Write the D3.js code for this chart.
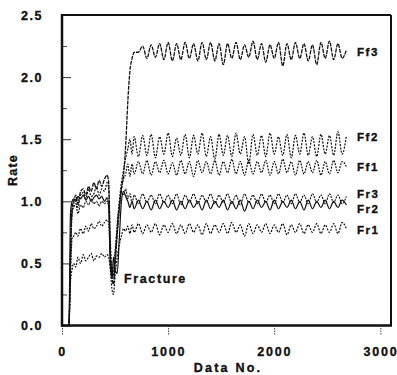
<!DOCTYPE html>
<html>
<head>
<meta charset="utf-8">
<script src="https://cdn.jsdelivr.net/npm/d3@7/dist/d3.min.js"></script>
<style>
  html, body { margin: 0; padding: 0; background: #fff; }
  svg { display: block; }
  text { font-family: Arial, "Liberation Sans", Helvetica, sans-serif; font-weight: bold; fill: #111; }
</style>
</head>
<body>
<svg id="chart" width="397" height="375"></svg>
<script>
// Sample positions (data number) shared by all six series
const dataNo = [0, 65, 80, 95, 110, 130, 150, 175, 200, 225, 250, 275, 300, 325, 350, 375, 400, 425, 440, 455,
  470, 485, 500, 520, 540, 560, 580, 600, 620, 640, 660, 680,
  720, 760, 800, 840, 880, 920, 960, 1000, 1040, 1080, 1120, 1160, 1200, 1240, 1280, 1320, 1360, 1400,
  1440, 1480, 1520, 1560, 1600, 1640, 1680, 1720, 1760, 1800, 1840, 1880, 1920, 1960, 2000, 2040,
  2080, 2120, 2160, 2200, 2240, 2280, 2320, 2360, 2400, 2440, 2480, 2520, 2560, 2600, 2640, 2680];

const ff3 = [0, 0, 0.55, 0.95, 1.0, 1.05, 0.98, 1.08, 1.1, 1.05, 1.12, 1.08, 1.15, 1.1, 1.17, 1.12, 1.18, 1.21, 1.15, 0.6,
  0.4, 0.33, 0.5, 0.75, 0.95, 1.1, 1.22, 1.45, 1.8, 2.05, 2.15, 2.2,
  2.20, 2.25, 2.15, 2.26, 2.16, 2.27, 2.14, 2.28, 2.13, 2.27, 2.14, 2.28, 2.15, 2.27, 2.13, 2.28, 2.14, 2.28,
  2.13, 2.27, 2.10, 2.27, 2.15, 2.28, 2.14, 2.26, 2.16, 2.29, 2.14, 2.27, 2.12, 2.26, 2.15, 2.28,
  2.09, 2.27, 2.14, 2.28, 2.15, 2.27, 2.13, 2.26, 2.10, 2.28, 2.15, 2.29, 2.14, 2.27, 2.15, 2.22];

const ff2 = [0, 0, 0.5, 0.9, 0.98, 1.02, 0.95, 1.05, 1.07, 1.02, 1.1, 1.04, 1.06, 1.12, 1.05, 1.1, 1.08, 1.15, 1.1, 0.7,
  0.45, 0.4, 0.55, 0.8, 1.0, 1.15, 1.25, 1.35, 1.42, 1.5, 1.38, 1.52,
  1.36, 1.53, 1.37, 1.54, 1.35, 1.52, 1.38, 1.55, 1.36, 1.51, 1.37, 1.54, 1.35, 1.53, 1.38, 1.55, 1.36, 1.52,
  1.34, 1.54, 1.37, 1.53, 1.36, 1.55, 1.38, 1.52, 1.30, 1.54, 1.37, 1.53, 1.36, 1.55, 1.38, 1.52,
  1.37, 1.54, 1.35, 1.53, 1.38, 1.55, 1.37, 1.52, 1.36, 1.54, 1.38, 1.53, 1.37, 1.56, 1.38, 1.53];

const ff1 = [0, 0, 0.4, 0.7, 0.72, 0.75, 0.72, 0.78, 0.74, 0.8, 0.76, 0.82, 0.78, 0.8, 0.84, 0.8, 0.83, 0.85, 0.82, 0.55,
  0.4, 0.45, 0.6, 0.8, 0.98, 1.1, 1.18, 1.22, 1.3, 1.2, 1.3, 1.22,
  1.32, 1.22, 1.33, 1.21, 1.32, 1.23, 1.33, 1.22, 1.31, 1.21, 1.33, 1.22, 1.32, 1.20, 1.33, 1.23, 1.32, 1.22,
  1.33, 1.21, 1.32, 1.23, 1.34, 1.22, 1.32, 1.21, 1.33, 1.22, 1.32, 1.23, 1.33, 1.21, 1.32, 1.22,
  1.34, 1.23, 1.32, 1.21, 1.33, 1.22, 1.32, 1.23, 1.33, 1.21, 1.32, 1.22, 1.33, 1.23, 1.32, 1.28];

const fr3 = [0, 0, 0.6, 0.92, 0.95, 0.98, 0.9, 0.97, 0.95, 1.0, 0.97, 1.02, 0.98, 1.0, 0.96, 1.0, 0.98, 1.0, 0.96, 0.6,
  0.42, 0.38, 0.5, 0.72, 0.92, 1.08, 1.05, 1.1, 1.02, 1.06, 0.99, 1.05,
  0.98, 1.06, 0.99, 1.05, 0.98, 1.06, 0.99, 1.05, 0.98, 1.06, 0.97, 1.05, 0.99, 1.06, 0.98, 1.05, 0.99, 1.06,
  0.98, 1.05, 0.99, 1.06, 0.98, 1.05, 0.97, 1.06, 0.99, 1.05, 0.98, 1.06, 0.99, 1.05, 0.98, 1.06,
  0.99, 1.05, 0.98, 1.06, 0.99, 1.05, 0.98, 1.06, 0.99, 1.05, 0.98, 1.06, 0.99, 1.05, 0.98, 1.04];

const fr2 = [0, 0, 0.9, 1.0, 1.02, 1.0, 1.04, 1.02, 1.05, 1.01, 1.04, 1.0, 1.03, 1.05, 1.02, 1.04, 1.0, 1.03, 0.95, 0.5,
  0.38, 0.55, 0.45, 0.42, 0.7, 1.0, 1.08, 1.04, 1.0, 0.95, 1.0, 0.94,
  1.01, 0.94, 1.0, 0.93, 1.01, 0.94, 1.0, 0.95, 1.01, 0.93, 1.0, 0.94, 1.01, 0.95, 1.0, 0.93, 1.01, 0.94,
  1.0, 0.95, 1.01, 0.93, 1.0, 0.94, 1.01, 0.92, 1.0, 0.94, 1.01, 0.95, 1.0, 0.93, 1.01, 0.94,
  1.0, 0.95, 1.01, 0.94, 1.0, 0.93, 1.01, 0.94, 1.0, 0.95, 1.01, 0.94, 1.0, 0.95, 1.01, 0.97];

const fr1 = [0, 0, 0.35, 0.45, 0.5, 0.47, 0.55, 0.5, 0.57, 0.52, 0.55, 0.58, 0.52, 0.56, 0.55, 0.58, 0.55, 0.57, 0.55, 0.45,
  0.3, 0.25, 0.4, 0.55, 0.65, 0.72, 0.78, 0.76, 0.8, 0.74, 0.81, 0.75,
  0.82, 0.74, 0.81, 0.75, 0.82, 0.73, 0.81, 0.75, 0.82, 0.74, 0.81, 0.74, 0.82, 0.75, 0.81, 0.73, 0.82, 0.74,
  0.81, 0.75, 0.82, 0.74, 0.83, 0.75, 0.81, 0.72, 0.82, 0.74, 0.81, 0.75, 0.82, 0.74, 0.81, 0.75,
  0.82, 0.73, 0.81, 0.75, 0.82, 0.74, 0.81, 0.75, 0.82, 0.74, 0.81, 0.75, 0.82, 0.74, 0.83, 0.78];

const seriesNames = ["Ff3", "Ff2", "Ff1", "Fr3", "Fr2", "Fr1"];
const seriesValues = [ff3, ff2, ff1, fr3, fr2, fr1];
// value at which each end label sits
const labelValues = [2.2, 1.52, 1.28, 1.06, 0.94, 0.77];

const yMajorTicks = [0, 0.5, 1.0, 1.5, 2.0, 2.5];
const yMinorTicks = [0.25, 0.75, 1.25, 1.75, 2.25];
const xTicks = [0, 1000, 2000, 3000];

// line styles per series
const dashes = ["4,1", "2,1.3", "1.8,1.2", "2,1", null, "2,1.3"];
const widths = [1.3, 1.2, 1.2, 1.1, 1.2, 1.2];

const svg = d3.select("#chart");
const plotLeft = 62, plotRight = 391, plotTop = 15, plotBottom = 325.5;

const x = d3.scaleLinear().domain([0, 3100]).range([plotLeft, plotRight]);
const y = d3.scaleLinear().domain([0, 2.5]).range([plotBottom, plotTop]);

const styleText = sel => sel
  .attr("font-family", "Arial, 'Liberation Sans', sans-serif")
  .attr("font-weight", "bold").attr("fill", "#111")
  .attr("stroke", "#111").attr("stroke-width", 0.35);

// y axis: major ticks inward with labels, minor ticks inward
const yAxis = svg.append("g").attr("transform", `translate(${plotLeft},0)`)
  .call(d3.axisLeft(y).tickValues(yMajorTicks).tickSizeInner(-9).tickSizeOuter(0)
    .tickFormat(d3.format(".1f")).tickPadding(19));
yAxis.select(".domain").remove();
yAxis.selectAll("line").attr("stroke", "#333").attr("stroke-width", 1);
yAxis.selectAll("text").attr("font-size", 12.5).attr("letter-spacing", 1.5).call(styleText);

const yMinor = svg.append("g").attr("transform", `translate(${plotLeft},0)`)
  .call(d3.axisLeft(y).tickValues(yMinorTicks).tickSizeInner(-5).tickSizeOuter(0).tickFormat(""));
yMinor.select(".domain").remove();
yMinor.selectAll("line").attr("stroke", "#444").attr("stroke-width", 1);

// x axis: outward ticks
const xAxis = svg.append("g").attr("transform", `translate(0,${plotBottom})`)
  .call(d3.axisBottom(x).tickValues(xTicks).tickSizeInner(9).tickSizeOuter(0).tickFormat(d3.format("d")).tickPadding(13));
xAxis.select(".domain").remove();
xAxis.selectAll("line").attr("stroke", "#444").attr("stroke-width", 1).attr("stroke-dasharray", "1.5,1");
xAxis.selectAll("text").attr("font-size", 12.5).attr("letter-spacing", 1.8).call(styleText);

// series lines
const line = d3.line()
  .x((d, i) => x(dataNo[i]))
  .y(d => y(d))
  .curve(d3.curveMonotoneX);

const plot = svg.append("g");
seriesValues.forEach((vals, k) => {
  plot.append("path")
    .attr("d", line(vals))
    .attr("fill", "none")
    .attr("stroke", "#111")
    .attr("stroke-width", widths[k])
    .attr("stroke-dasharray", dashes[k]);
});

// frame
svg.append("line").attr("x1", plotLeft).attr("x2", plotRight).attr("y1", plotTop).attr("y2", plotTop)
  .attr("stroke", "#111").attr("stroke-width", 2);
svg.append("line").attr("x1", plotRight).attr("x2", plotRight).attr("y1", plotTop).attr("y2", plotBottom)
  .attr("stroke", "#111").attr("stroke-width", 2);
svg.append("line").attr("x1", plotLeft).attr("x2", plotLeft).attr("y1", plotTop - 1).attr("y2", plotBottom + 1)
  .attr("stroke", "#111").attr("stroke-width", 2.5);
svg.append("line").attr("x1", plotLeft - 1).attr("x2", plotRight + 1).attr("y1", plotBottom).attr("y2", plotBottom)
  .attr("stroke", "#111").attr("stroke-width", 2.5);

// series end labels
svg.append("g").selectAll("text").data(seriesNames).join("text")
  .attr("x", x(2780))
  .attr("y", (d, i) => y(labelValues[i]))
  .attr("dy", "0.36em")
  .attr("font-size", 11.5)
  .attr("letter-spacing", 1.5)
  .call(styleText)
  .text(d => d);

svg.append("text")
  .attr("x", x(585)).attr("y", y(0.38)).attr("dy", "0.36em")
  .attr("font-size", 12.5).attr("letter-spacing", 1.6)
  .call(styleText)
  .text("Fracture");

// axis titles
svg.append("text")
  .attr("transform", `translate(17,170) rotate(-90)`)
  .attr("text-anchor", "middle")
  .attr("font-size", 12.5).attr("letter-spacing", 1.2)
  .call(styleText)
  .text("Rate");

svg.append("text")
  .attr("x", 228).attr("y", 372)
  .attr("text-anchor", "middle")
  .attr("font-size", 12.5).attr("letter-spacing", 2.2)
  .call(styleText)
  .text("Data No.");
</script>
</body>
</html>
